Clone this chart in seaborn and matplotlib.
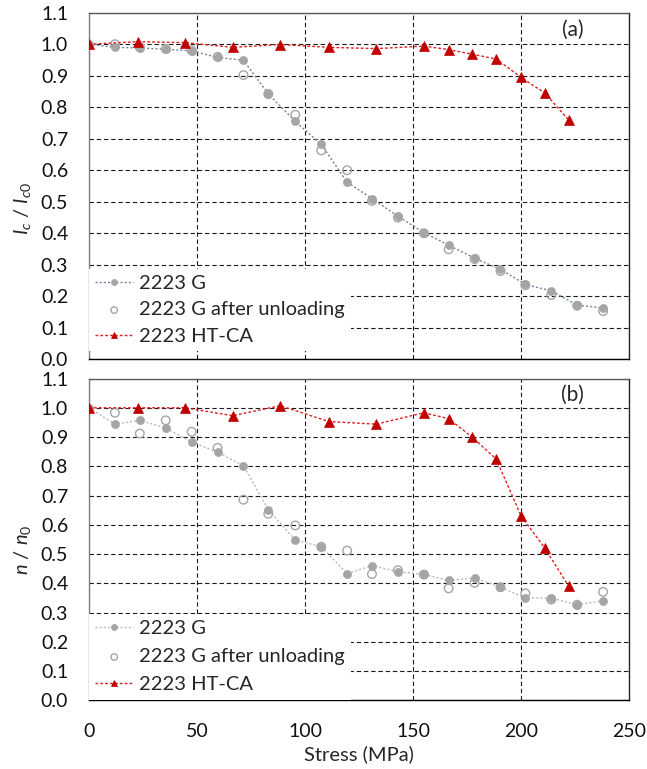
import numpy as np
import pandas as pd
import matplotlib
matplotlib.use("Agg")
import matplotlib.pyplot as plt
import seaborn as sns

# stress values (MPa)
stress_g = [0, 12, 23.5, 35.5, 47.5, 59.5, 71.5, 83, 95.5, 107.5, 119.5, 131, 143,
            155, 166.5, 178.5, 190.5, 202, 214, 226, 238]
stress_unl = stress_g[1:]
stress_ht = [0, 22.5, 44.5, 66.5, 88.5, 111, 133, 155, 166.5, 177.5, 188.5, 200, 211, 222]

# (a) Ic / Ic0
ic_g = [1.0, 0.99, 0.988, 0.984, 0.979, 0.958, 0.949, 0.842, 0.755, 0.682, 0.562,
        0.510, 0.454, 0.402, 0.362, 0.321, 0.285, 0.238, 0.217, 0.172, 0.163]
ic_unl = [1.0, 0.99, 0.985, 0.98, 0.96, 0.902, 0.842, 0.776, 0.663, 0.600, 0.503,
          0.45, 0.40, 0.349, 0.318, 0.28, 0.235, 0.204, 0.17, 0.153]
ic_ht = [1.0, 1.008, 1.005, 0.99, 0.999, 0.99, 0.986, 0.994, 0.983, 0.968, 0.953,
         0.895, 0.845, 0.76]

# (b) n / n0
n_g = [1.0, 0.944, 0.957, 0.931, 0.883, 0.848, 0.802, 0.652, 0.548, 0.526, 0.433,
       0.461, 0.44, 0.431, 0.41, 0.419, 0.387, 0.35, 0.35, 0.327, 0.341]
n_unl = [0.983, 0.912, 0.957, 0.918, 0.863, 0.686, 0.638, 0.598, 0.525, 0.512, 0.432,
         0.445, 0.43, 0.383, 0.402, 0.387, 0.366, 0.345, 0.327, 0.371]
n_ht = [1.0, 1.0, 1.0, 0.973, 1.007, 0.953, 0.944, 0.983, 0.963, 0.899, 0.825,
        0.631, 0.521, 0.391]

labels = ["2223 G", "2223 G after unloading", "2223 HT-CA"]

sns.set_style("white")
plt.rcParams['font.family'] = ['Lato', 'DejaVu Sans']
plt.rcParams['mathtext.fontset'] = 'custom'
plt.rcParams['mathtext.rm'] = 'Lato'
plt.rcParams['mathtext.it'] = 'Lato:italic'

fig = plt.figure(figsize=(6.47, 7.69), dpi=100)
ax1 = fig.add_axes([0.1376, 0.5328, 0.8346, 0.4507])
ax2 = fig.add_axes([0.1376, 0.0891, 0.8346, 0.4187])

gray = '#a5a5a5'
red = '#c00000'


def panel(ax, yg, yu, yh, gline, tag, ylab, ylab_y, legend_y, lspace):
    sns.lineplot(x=stress_g, y=yg, ax=ax, color=gline, lw=1.0, linestyle=(0, (1.5, 1.5)),
                 marker='o', markersize=5.8, markerfacecolor=gray, markeredgecolor=gray,
                 markeredgewidth=0.5, label=labels[0], sort=False, zorder=3)
    sns.scatterplot(x=stress_unl, y=yu, ax=ax, marker='o', s=38, facecolors='none',
                    edgecolor=gray, linewidth=1.0, label=labels[1], zorder=4)
    sns.lineplot(x=stress_ht, y=yh, ax=ax, color='#e02020', lw=1.0, linestyle=(0, (2, 1.5)),
                 marker='^', markersize=6.5, markerfacecolor=red, markeredgecolor=red,
                 markeredgewidth=0.5, label=labels[2], sort=False, zorder=5)

    ax.set_xlim(0, 250)
    ax.set_ylim(0, 1.1)
    ax.set_xticks(np.arange(0, 251, 50))
    ax.set_yticks(np.arange(0, 1.11, 0.1))
    ax.set_yticklabels([f"{v:.1f}" for v in np.arange(0, 1.11, 0.1)])
    ax.grid(True, color='#1a1a1a', linestyle=(0, (4, 2.5)), linewidth=0.8)
    ax.tick_params(axis='both', length=0, labelsize=14, colors='#111111')
    ax.tick_params(axis='y', pad=15)
    ax.tick_params(axis='x', pad=16)
    ax.spines['left'].set_color('#808080')
    ax.spines['top'].set_color('#595959')
    ax.spines['right'].set_color('#262626')
    ax.spines['bottom'].set_color('#000000')
    for s in ax.spines.values():
        s.set_linewidth(1.0)
    ax.set_ylabel(ylab, fontsize=14.5)
    ax.yaxis.set_label_coords(-0.104, ylab_y)
    ax.text(0.895, 0.95, tag, transform=ax.transAxes, fontsize=15,
            ha='center', va='center')
    leg = ax.legend(loc='lower left', bbox_to_anchor=(0.0, legend_y), fontsize=14.5,
                    frameon=True, framealpha=1, edgecolor='none', facecolor='white',
                    handlelength=1.9, handletextpad=0.3, labelspacing=lspace,
                    borderaxespad=0.0, borderpad=0.3, fancybox=False, markerscale=0.75)
    leg.set_zorder(10)


panel(ax1, ic_g, ic_unl, ic_ht, '#7083a0', '(a)', r'$I_c$ / $I_{c0}$', 0.436, 0.024, 0.47)
panel(ax2, n_g, n_unl, n_ht, '#b8b8b8', '(b)', r'$n$ / $n_0$', 0.467, 0.003, 0.55)

ax1.set_xticklabels([])
ax1.set_xlabel('')
ax2.set_xlabel('Stress (MPa)', fontsize=14.5, labelpad=4)

fig.savefig('out.png', dpi=100)
